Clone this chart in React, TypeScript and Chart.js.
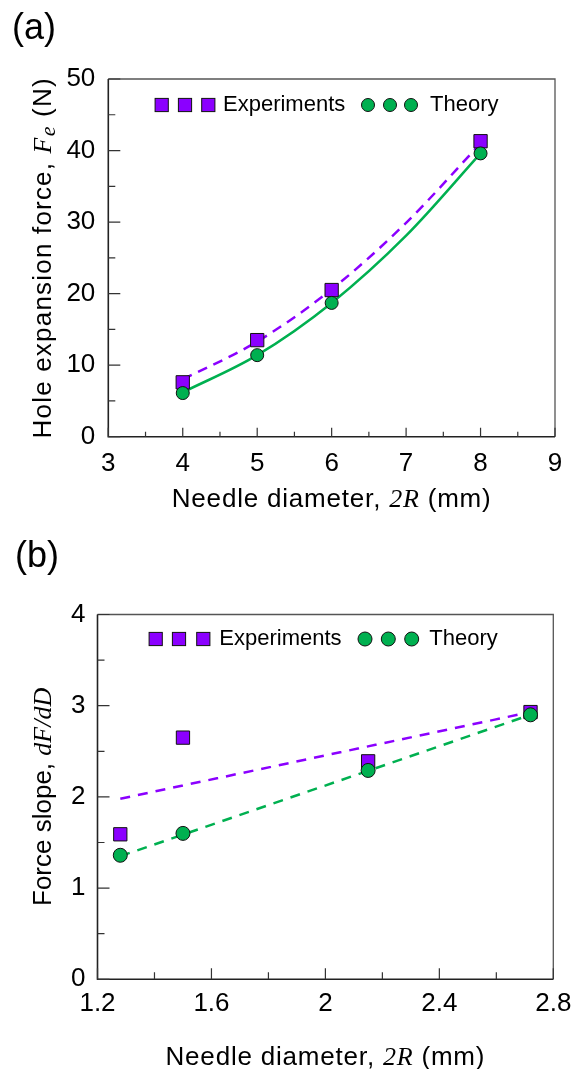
import React, { useEffect, useRef } from 'react';
import { Chart, registerables } from 'chart.js';

Chart.register(...registerables);

// ---------- Panel (a) data ----------
const diamA = [4, 5, 6, 8];
const expA = [7.6, 13.5, 20.5, 41.3];
const theoryA = [6.1, 11.4, 18.7, 39.6];
const fitXA = [4, 5, 6, 7, 8];
const expFitA = [8.0, 13.3, 20.6, 29.9, 41.0];
const theoryFitA = [6.2, 11.4, 18.7, 28.1, 39.6];
const xTicksA = [3, 4, 5, 6, 7, 8, 9];
const xMinorTicksA = [3.5, 4.5, 5.5, 6.5, 7.5, 8.5];
const yTicksA = [0, 10, 20, 30, 40, 50];
const yMinorTicksA = [5, 15, 25, 35, 45];

// ---------- Panel (b) data ----------
const diamB = [1.28, 1.5, 2.15, 2.72];
const expB = [1.59, 2.65, 2.39, 2.93];
const theoryB = [1.36, 1.6, 2.29, 2.9];
const fitXB = [1.28, 2.72];
const expFitB = [1.98, 2.93];
const theoryFitB = [1.35, 2.9];
const xTicksB = [1.2, 1.6, 2.0, 2.4, 2.8];
const xMinorTicksB = [1.4, 1.8, 2.2, 2.6];
const yTicksB = [0, 1, 2, 3, 4];
const yMinorTicksB = [0.5, 1.5, 2.5, 3.5];

const PURPLE = '#8B00FF';
const GREEN = '#00B050';
const SANS = '"Liberation Sans", Arial, sans-serif';
const SERIF = '"Liberation Serif", "Times New Roman", serif';
const W = 583;

type Seg = { t: string; f: string; dy?: number };

function drawSegs(ctx: CanvasRenderingContext2D, segs: Seg[], cx: number, cy: number, rotate: boolean, spacing: number, capShift: number) {
  ctx.save();
  ctx.translate(cx, cy);
  if (rotate) ctx.rotate(-Math.PI / 2);
  ctx.textBaseline = 'alphabetic';
  ctx.textAlign = 'left';
  ctx.fillStyle = '#000';
  (ctx as any).letterSpacing = spacing + 'px';
  let total = 0;
  const widths: number[] = [];
  for (const s of segs) {
    ctx.font = s.f;
    const w = ctx.measureText(s.t).width;
    widths.push(w);
    total += w;
  }
  let x = -total / 2;
  segs.forEach((s, i) => {
    ctx.font = s.f;
    ctx.fillText(s.t, x, capShift + (s.dy || 0));
    x += widths[i];
  });
  ctx.restore();
}

type PanelCfg = {
  height: number;
  area: { left: number; right: number; top: number; bottom: number };
  xMin: number; xMax: number; yMin: number; yMax: number;
  diam: number[]; exp: number[]; theory: number[];
  fitX: number[]; expFit: number[]; theoryFit: number[];
  theoryDash: number[]; expDash: number[];
  xTicks: number[]; xMinor: number[]; yTicks: number[]; yMinor: number[];
  fmt: (v: number) => string;
  xTickPad: number; yTickPad: number;
  xMajorLen: number; xMinorLen: number;
  circleR: number;
  legend: { y: number; sq: number[]; expX: number; circ: number[]; thX: number };
  label: string; labelPos: [number, number];
  xTitle: Seg[]; xTitleDy: number;
  yTitle: Seg[]; yTitleX: number; ySpacing: number; xSpacing: number;
};

const TITLE = 26;

const panelA: PanelCfg = {
  height: 534,
  area: { left: 108.3, right: 555, top: 79, bottom: 436.7 },
  xMin: 3, xMax: 9, yMin: 0, yMax: 50,
  diam: diamA, exp: expA, theory: theoryA,
  fitX: fitXA, expFit: expFitA, theoryFit: theoryFitA,
  theoryDash: [], expDash: [10, 7],
  xTicks: xTicksA, xMinor: xMinorTicksA, yTicks: yTicksA, yMinor: yMinorTicksA,
  fmt: (v) => String(Math.round(v)),
  xTickPad: 12, yTickPad: 13,
  xMajorLen: 9, xMinorLen: 5,
  circleR: 6.5,
  legend: { y: 105, sq: [161.7, 185, 208.3], expX: 223, circ: [368, 390, 411], thX: 430 },
  label: '(a)', labelPos: [34, 29],
  xTitle: [
    { t: 'Needle diameter, ', f: `${TITLE}px ${SANS}` },
    { t: '2R', f: `italic ${TITLE}px ${SERIF}` },
    { t: ' (mm)', f: `${TITLE}px ${SANS}` },
  ],
  xTitleDy: 61,
  yTitle: [
    { t: 'Hole expansion force, ', f: `${TITLE}px ${SANS}` },
    { t: 'F', f: `italic ${TITLE}px ${SERIF}` },
    { t: 'e', f: `italic ${TITLE - 4}px ${SERIF}`, dy: 4 },
    { t: ' (N)', f: `${TITLE}px ${SANS}` },
  ],
  yTitleX: 42, ySpacing: 1.2, xSpacing: 0.8,
};

const panelB: PanelCfg = {
  height: 535,
  area: { left: 97.5, right: 553.3, top: 80.5, bottom: 445.3 },
  xMin: 1.2, xMax: 2.8, yMin: 0, yMax: 4,
  diam: diamB, exp: expB, theory: theoryB,
  fitX: fitXB, expFit: expFitB, theoryFit: theoryFitB,
  theoryDash: [10, 8], expDash: [10, 8],
  xTicks: xTicksB, xMinor: xMinorTicksB, yTicks: yTicksB, yMinor: yMinorTicksB,
  fmt: (v) => String(Number(v.toFixed(1))),
  xTickPad: 9, yTickPad: 12,
  xMajorLen: 11, xMinorLen: 7,
  circleR: 7,
  legend: { y: 105, sq: [155.7, 179, 203.3], expX: 219.3, circ: [365, 388.3, 411.7], thX: 429.3 },
  label: '(b)', labelPos: [37, 23],
  xTitle: [
    { t: 'Needle diameter, ', f: `${TITLE}px ${SANS}` },
    { t: '2R', f: `italic ${TITLE}px ${SERIF}` },
    { t: ' (mm)', f: `${TITLE}px ${SANS}` },
  ],
  xTitleDy: 76,
  yTitle: [
    { t: 'Force slope, ', f: `${TITLE}px ${SANS}` },
    { t: 'dF/dD', f: `italic ${TITLE}px ${SERIF}` },
  ],
  yTitleX: 42, ySpacing: 0, xSpacing: 0.8,
};

function Panel({ cfg }: { cfg: PanelCfg }) {
  const ref = useRef<HTMLCanvasElement>(null);
  useEffect(() => {
    const canvas = ref.current!;
    const H = cfg.height;
    const decor = {
      id: 'decor',
      afterDraw(chart: any) {
        const ctx: CanvasRenderingContext2D = chart.ctx;
        const { left, right, top, bottom } = chart.chartArea;
        const xs = chart.scales.x;
        const ys = chart.scales.y;
        ctx.save();
        // frame
        ctx.lineWidth = 1.3;
        ctx.strokeStyle = '#555';
        ctx.beginPath();
        ctx.moveTo(left, top); ctx.lineTo(right, top); ctx.lineTo(right, bottom);
        ctx.stroke();
        ctx.strokeStyle = '#222';
        ctx.lineWidth = 1.6;
        ctx.beginPath();
        ctx.moveTo(left, top); ctx.lineTo(left, bottom); ctx.lineTo(right, bottom);
        ctx.stroke();
        // inward ticks
        ctx.lineWidth = 1.2;
        ctx.strokeStyle = '#333';
        ctx.beginPath();
        cfg.yTicks.forEach((v) => { const p = ys.getPixelForValue(v); ctx.moveTo(left, p); ctx.lineTo(left + 12, p); });
        cfg.yMinor.forEach((v) => { const p = ys.getPixelForValue(v); ctx.moveTo(left, p); ctx.lineTo(left + 7, p); });
        cfg.xTicks.forEach((v) => { const p = xs.getPixelForValue(v); ctx.moveTo(p, bottom); ctx.lineTo(p, bottom - cfg.xMajorLen); });
        cfg.xMinor.forEach((v) => { const p = xs.getPixelForValue(v); ctx.moveTo(p, bottom); ctx.lineTo(p, bottom - cfg.xMinorLen); });
        ctx.stroke();
        // legend
        const lg = cfg.legend;
        ctx.lineWidth = 1;
        ctx.strokeStyle = '#111';
        lg.sq.forEach((x) => {
          ctx.fillStyle = PURPLE;
          ctx.fillRect(x - 6.6, lg.y - 6.6, 13.2, 13.2);
          ctx.strokeRect(x - 6.6, lg.y - 6.6, 13.2, 13.2);
        });
        lg.circ.forEach((x) => {
          ctx.fillStyle = GREEN;
          ctx.beginPath();
          ctx.arc(x, lg.y, cfg.circleR, 0, Math.PI * 2);
          ctx.fill();
          ctx.stroke();
        });
        ctx.fillStyle = '#000';
        ctx.font = `22px ${SANS}`;
        ctx.textBaseline = 'middle';
        ctx.textAlign = 'left';
        ctx.fillText('Experiments', lg.expX, lg.y);
        ctx.fillText('Theory', lg.thX, lg.y);
        // panel label
        ctx.font = `36px ${SANS}`;
        ctx.textAlign = 'center';
        ctx.fillText(cfg.label, cfg.labelPos[0], cfg.labelPos[1]);
        ctx.restore();
        // axis titles
        drawSegs(ctx, cfg.xTitle, (left + right) / 2, bottom + cfg.xTitleDy, false, cfg.xSpacing, TITLE * 0.36);
        drawSegs(ctx, cfg.yTitle, cfg.yTitleX, (top + bottom) / 2, true, cfg.ySpacing, TITLE * 0.36);
      },
    };
    const pts = (xs: number[], ys: number[]) => xs.map((x, i) => ({ x, y: ys[i] }));
    const chart = new Chart(canvas, {
      type: 'scatter',
      data: {
        datasets: [
          {
            label: 'Theory',
            data: pts(cfg.diam, cfg.theory),
            pointStyle: 'circle',
            pointRadius: cfg.circleR,
            backgroundColor: GREEN,
            borderColor: '#111',
            borderWidth: 1,
            showLine: false,
            order: 0,
          },
          {
            label: 'Experiments',
            data: pts(cfg.diam, cfg.exp),
            pointStyle: 'rect',
            pointRadius: 9.4,
            backgroundColor: PURPLE,
            borderColor: '#111',
            borderWidth: 1,
            showLine: false,
            order: 1,
          },
          {
            label: 'Theory fit',
            data: pts(cfg.fitX, cfg.theoryFit),
            showLine: true,
            pointRadius: 0,
            borderColor: GREEN,
            borderWidth: 2.5,
            borderDash: cfg.theoryDash,
            cubicInterpolationMode: 'monotone',
            fill: false,
            order: 2,
          },
          {
            label: 'Experiments fit',
            data: pts(cfg.fitX, cfg.expFit),
            showLine: true,
            pointRadius: 0,
            borderColor: PURPLE,
            borderWidth: 2.5,
            borderDash: cfg.expDash,
            cubicInterpolationMode: 'monotone',
            fill: false,
            order: 3,
          },
        ] as any,
      },
      options: {
        responsive: false,
        animation: false,
        devicePixelRatio: 1,
        events: [],
        layout: { padding: { left: 0, right: W - cfg.area.right, top: cfg.area.top, bottom: 0 } },
        plugins: { legend: { display: false }, tooltip: { enabled: false } },
        scales: {
          x: {
            type: 'linear',
            min: cfg.xMin,
            max: cfg.xMax,
            afterFit: (s: any) => { s.height = H - cfg.area.bottom; },
            afterBuildTicks: (s: any) => { s.ticks = cfg.xTicks.map((v) => ({ value: v })); },
            ticks: {
              callback: (v: any) => cfg.fmt(Number(v)),
              font: { family: SANS, size: 26 },
              color: '#000',
              padding: cfg.xTickPad,
              maxRotation: 0,
              autoSkip: false,
            },
            grid: { display: false, drawTicks: false },
            border: { display: false },
          },
          y: {
            type: 'linear',
            min: cfg.yMin,
            max: cfg.yMax,
            afterFit: (s: any) => { s.width = cfg.area.left; },
            afterBuildTicks: (s: any) => { s.ticks = cfg.yTicks.map((v) => ({ value: v })); },
            ticks: {
              callback: (v: any) => cfg.fmt(Number(v)),
              font: { family: SANS, size: 26 },
              color: '#000',
              padding: cfg.yTickPad,
              autoSkip: false,
            },
            grid: { display: false, drawTicks: false },
            border: { display: false },
          },
        },
      } as any,
      plugins: [decor],
    });
    return () => chart.destroy();
  }, [cfg]);
  return <canvas ref={ref} width={W} height={cfg.height} style={{ display: 'block', width: W, height: cfg.height }} />;
}

export default function App() {
  return (
    <div style={{ position: 'absolute', left: 0, top: 0, width: W, height: 1069, background: '#fff' }}>
      <Panel cfg={panelA} />
      <Panel cfg={panelB} />
    </div>
  );
}
